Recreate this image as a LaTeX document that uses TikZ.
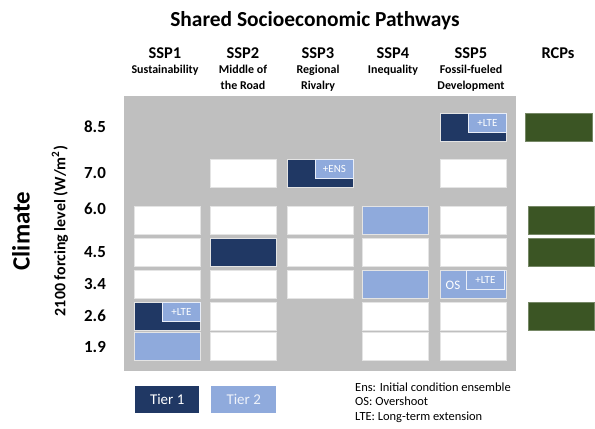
\documentclass[tikz,border=0pt]{standalone}
\usepackage{fontspec}
\setmainfont{Carlito}
\definecolor{navy}{HTML}{203864}
\definecolor{lblue}{HTML}{8FAADC}
\definecolor{rcpgreen}{HTML}{3B5524}
\definecolor{bggray}{HTML}{BFBFBF}
\definecolor{edge}{HTML}{E4E4E4}
\tikzset{
  cellbox/.style={draw=edge, line width=0.8bp, minimum width=66bp, minimum height=27.5bp, inner sep=0pt, anchor=north west},
  whitecell/.style={cellbox, fill=white},
  darkcell/.style={cellbox, fill=navy},
  lightcell/.style={cellbox, fill=lblue},
  greencell/.style={cellbox, draw=rcpgreen!70!white, fill=rcpgreen, minimum width=66bp},
  tag/.style={draw=white!80!lblue, line width=0.8bp, fill=lblue, text=white, font=\fontsize{11}{12}\selectfont, inner sep=0pt, minimum width=38bp, minimum height=19bp, anchor=north east},
  hdr/.style={font=\fontsize{16.5}{18}\selectfont\bfseries, anchor=base},
  sub/.style={font=\fontsize{12}{16}\selectfont\bfseries, align=center, anchor=north, inner sep=0pt},
  lvl/.style={font=\fontsize{17}{18}\selectfont\bfseries},
  tier/.style={minimum width=64bp, minimum height=27bp, inner sep=0pt, anchor=north west, font=\fontsize{15}{16}\selectfont}
}
\begin{document}
\begin{tikzpicture}[x=1bp,y=-1bp]
\useasboundingbox (0,0) rectangle (595,428);
% background panel
\node[fill=bggray, minimum width=392bp, minimum height=275bp, inner sep=0pt, anchor=north west] (panel) at (124,96) {};
% title and headers
\node[font=\fontsize{21.5}{24}\selectfont\bfseries, anchor=base] (title) at (315,26) {Shared Socioeconomic Pathways};
\node[hdr] (h1) at (165,58) {SSP1};
\node[hdr] (h2) at (243,58) {SSP2};
\node[hdr] (h3) at (318,58) {SSP3};
\node[hdr] (h4) at (393,58) {SSP4};
\node[hdr] (h5) at (471,58) {SSP5};
\node[hdr] (h6) at (558,58) {RCPs};
\node[sub] (s1) at (165,65) {Sustainability};
\node[sub] (s2) at (243,65) {Middle of\\the Road};
\node[sub] (s3) at (318,65) {Regional\\Rivalry};
\node[sub] (s4) at (393,65) {Inequality};
\node[sub] (s5) at (471,65) {Fossil-fueled\\Development};
% axis labels
\node[font=\fontsize{25}{28}\selectfont\bfseries, rotate=90] (climate) at (21,231) {Climate};
\node[font=\fontsize{16}{18}\selectfont\bfseries, rotate=90] (axis) at (60,231) {2100 forcing level (W/m\textsuperscript{2})};
\node[lvl] (l85) at (95,127) {8.5};
\node[lvl] (l70) at (95,173) {7.0};
\node[lvl] (l60) at (95,209) {6.0};
\node[lvl] (l45) at (95,252) {4.5};
\node[lvl] (l34) at (95,284) {3.4};
\node[lvl] (l26) at (95,316) {2.6};
\node[lvl] (l19) at (95,347) {1.9};
% SSP1
\node[whitecell] (a60) at (134,206) {};
\node[whitecell] (a45) at (134,238) {};
\node[whitecell] (a34) at (134,270) {};
\node[darkcell] (a26) at (134,302) {};
\node[tag] (a26t) at (a26.north east) {+LTE};
\node[lightcell] (a19) at (134,332) {};
% SSP2
\node[whitecell] (b70) at (210,159) {};
\node[whitecell] (b60) at (210,206) {};
\node[darkcell] (b45) at (210,238) {};
\node[whitecell] (b34) at (210,270) {};
\node[whitecell] (b26) at (210,302) {};
\node[whitecell] (b19) at (210,332) {};
% SSP3
\node[darkcell] (c70) at (287,159) {};
\node[tag] (c70t) at (c70.north east) {+ENS};
\node[whitecell] (c60) at (287,206) {};
\node[whitecell] (c45) at (287,238) {};
\node[whitecell] (c34) at (287,270) {};
% SSP4
\node[lightcell] (d60) at (362,206) {};
\node[whitecell] (d45) at (362,238) {};
\node[lightcell] (d34) at (362,270) {};
\node[whitecell] (d26) at (362,302) {};
\node[whitecell] (d19) at (362,332) {};
% SSP5
\node[darkcell] (e85) at (440,113) {};
\node[tag] (e85t) at (e85.north east) {+LTE};
\node[whitecell] (e70) at (440,159) {};
\node[whitecell] (e60) at (440,206) {};
\node[whitecell] (e45) at (440,238) {};
\node[lightcell] (e34) at (440,270) {};
\node[tag, xshift=-2bp] (e34t) at (e34.north east) {+LTE};
\node[text=white, font=\fontsize{13}{14}\selectfont] (e34os) at (453,285) {OS};
\node[whitecell] (e26) at (440,302) {};
\node[whitecell] (e19) at (440,332) {};
% RCPs
\node[greencell, minimum width=67bp] (r85) at (525,113) {};
\node[greencell] (r60) at (528,206) {};
\node[greencell] (r45) at (528,238) {};
\node[greencell] (r26) at (528,302) {};
% legend
\node[tier, fill=navy, text=white] (t1) at (135,386) {Tier 1};
\node[tier, fill=lblue, text=white!85!lblue, minimum width=65bp] (t2) at (211,386) {Tier 2};
\node[font=\fontsize{12.5}{14.5}\selectfont, align=left, anchor=north west, inner sep=0pt] (key) at (355,382.5) {Ens: Initial condition ensemble\\OS: Overshoot\\LTE: Long-term extension};
\end{tikzpicture}
\end{document}
